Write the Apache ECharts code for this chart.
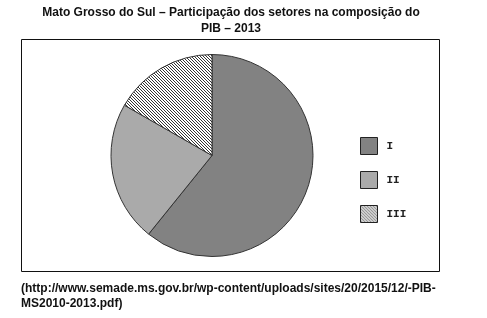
<!DOCTYPE html>
<html><head><meta charset="utf-8">
<script src="https://cdn.jsdelivr.net/npm/echarts@6/dist/echarts.min.js"></script>
<style>html,body{margin:0;padding:0;background:#fff}#c{width:487px;height:318px}</style>
</head><body><div id="c"></div>
<script>
const categories = ['I', 'II', 'III'];
const values = [60.8, 22.5, 16.7];
const titleText = 'Mato Grosso do Sul – Participação dos setores na composição do\nPIB – 2013';
const sourceText = '(http://www.semade.ms.gov.br/wp-content/uploads/sites/20/2015/12/-PIB-\nMS2010-2013.pdf)';

function hatch() {
  const c = document.createElement('canvas');
  c.width = 3; c.height = 3;
  const g = c.getContext('2d');
  g.fillStyle = '#fff'; g.fillRect(0, 0, 3, 3);
  g.fillStyle = '#333';
  for (let i = 0; i < 3; i++) g.fillRect(i, i, 1, 1);
  return c;
}
const colors = ['#828282', '#aaaaaa', { image: hatch(), repeat: 'repeat' }];

const chart = echarts.init(document.getElementById('c'), null, { renderer: 'canvas' });
chart.setOption({
  animation: false,
  title: [
    { text: titleText, left: 231, textAlign: 'center', top: 5, padding: 0,
      textStyle: { fontFamily: 'Liberation Sans, Arial', fontWeight: 'bold', fontSize: 12, lineHeight: 16, color: '#111' } },
    { text: sourceText, left: 21, top: 281, padding: 0,
      textStyle: { fontFamily: 'Liberation Sans, Arial', fontWeight: 'bold', fontSize: 12, lineHeight: 15, color: '#111' } }
  ],
  graphic: [
    { type: 'rect', shape: { x: 21.5, y: 39.5, width: 418, height: 232 },
      style: { fill: 'none', stroke: '#111', lineWidth: 1 }, z: -1 }
  ],
  legend: {
    orient: 'vertical', left: 360, top: 137, padding: 0,
    itemWidth: 17, itemHeight: 17, itemGap: 16,
    icon: 'rect',
    itemStyle: { borderColor: '#222', borderWidth: 1 },
    textStyle: { fontFamily: 'Liberation Mono, Courier New, monospace', fontWeight: 'bold', fontSize: 11, color: '#222', padding: [0, 0, 0, 4] },
    data: categories
  },
  series: [{
    type: 'pie',
    center: [212, 155.5],
    radius: 101,
    startAngle: 90,
    clockwise: true,
    label: { show: false },
    labelLine: { show: false },
    emphasis: { disabled: true },
    itemStyle: { borderColor: '#333', borderWidth: 1 },
    data: categories.map((c, i) => ({ name: c, value: values[i], itemStyle: { color: colors[i] } }))
  }]
});
</script></body></html>
